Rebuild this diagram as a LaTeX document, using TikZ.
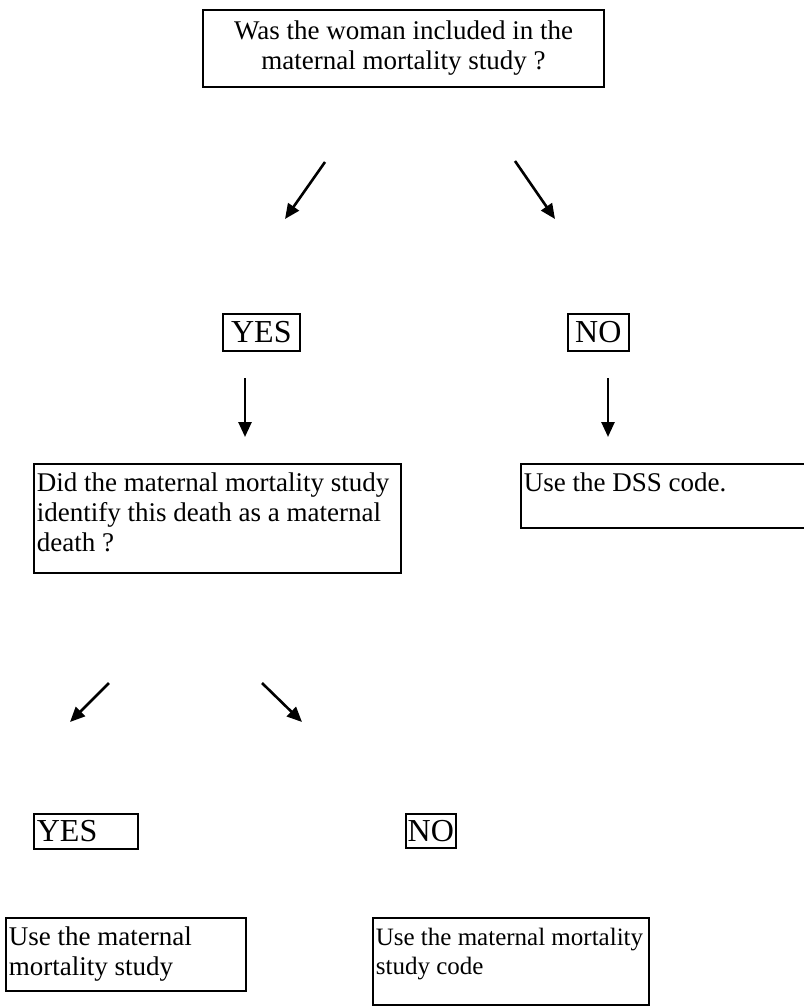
\documentclass[tikz,border=0pt]{standalone}
\usepackage{fontspec}
\setmainfont{Liberation Serif}
\usetikzlibrary{arrows.meta}
\newcommand\mytopstrut{\rule{0pt}{28pt}}
\begin{document}
\begin{tikzpicture}[x=1pt,y=-1pt,
  box/.style={draw, line width=1.7pt, inner sep=0pt},
  conn/.style={line width=2.6pt, -{Triangle[length=15pt,width=13pt]}},
  body/.style={font=\fontsize{27}{30}\selectfont},
  small/.style={font=\fontsize{25}{28.5}\selectfont},
  ans/.style={font=\fontsize{32}{34}\selectfont}
]
\useasboundingbox (0,0) rectangle (803,1006);

% top question
\node[box, body, minimum width=401pt, minimum height=77pt, align=center] (q1) at (403.5,48.5)
  {Was the woman included in the\\maternal mortality study ?};

% first-level answers
\node[box, ans, minimum width=77pt, minimum height=37pt, anchor=north west] (yes1) at (222,313) {YES};
\node[box, ans, minimum width=61pt, minimum height=37pt, anchor=north west] (no1) at (567,313) {NO};

% second question
\node[box, body, anchor=north west] (q2) at (33,463)
  {\parbox[t][109pt][t]{367pt}{\leftskip=3pt\mytopstrut Did the maternal mortality study\\identify this death as a maternal\\death ?}};
\node[box, body, anchor=north west] (dss) at (520,463)
  {\parbox[t][64pt][t]{290pt}{\leftskip=3pt\mytopstrut Use the DSS code.}};

% second-level answers
\node[box, ans, minimum height=35pt, anchor=north west] (yes2) at (33,813) {\makebox[104pt][l]{\hspace{3pt}YES}};
\node[box, ans, minimum width=50pt, minimum height=34pt, anchor=north west] (no2) at (405,813) {NO};

% outcomes
\node[box, body, anchor=north west] (out1) at (5,917)
  {\parbox[t][73pt][t]{240pt}{\leftskip=3pt\mytopstrut Use the maternal\\mortality study}};
\node[box, small, anchor=north west] (out2) at (372,917)
  {\parbox[t][87pt][t]{276pt}{\leftskip=3pt\mytopstrut Use the maternal mortality\\study code}};

% free-standing arrows
\coordinate (a1s) at (325,162); \coordinate (a1e) at (285,219);
\coordinate (a2s) at (515,161); \coordinate (a2e) at (555,219);
\coordinate (a3s) at (245,378); \coordinate (a3e) at (245,437);
\coordinate (a4s) at (608,378); \coordinate (a4e) at (608,437);
\coordinate (a5s) at (109,683); \coordinate (a5e) at (70,722);
\coordinate (a6s) at (262,683); \coordinate (a6e) at (302,722);
\draw[conn] (a1s) -- (a1e);
\draw[conn] (a2s) -- (a2e);
\draw[conn] (a3s) -- (a3e);
\draw[conn] (a4s) -- (a4e);
\draw[conn] (a5s) -- (a5e);
\draw[conn] (a6s) -- (a6e);
\end{tikzpicture}
\end{document}
